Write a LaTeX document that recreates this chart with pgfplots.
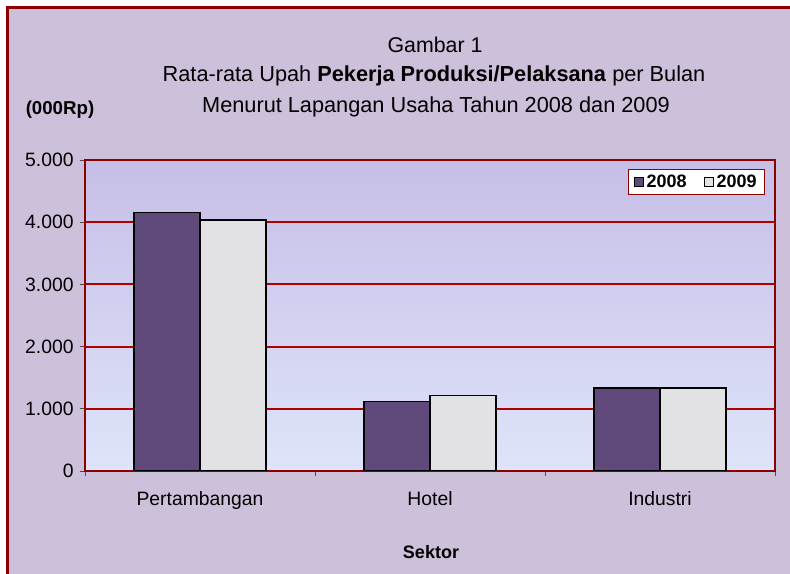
\documentclass[border=0pt]{standalone}
\usepackage{pgfplots}
\pgfplotsset{compat=1.18}
\usepackage{fontspec}
\setmainfont{Liberation Sans}
\definecolor{bgl}{RGB}{204,192,218}
\definecolor{framec}{RGB}{140,0,0}
\definecolor{gridc}{RGB}{175,0,0}
\definecolor{bar08}{RGB}{96,74,123}
\definecolor{bar09}{RGB}{226,226,228}
\definecolor{pltop}{RGB}{198,190,230}
\definecolor{plbot}{RGB}{222,228,250}
\begin{document}
\begin{tikzpicture}
\useasboundingbox (0pt,0pt) rectangle (592.5pt,430.5pt);
\fill[white] (0pt,0pt) rectangle (592.5pt,430.5pt);
\fill[bgl] (5.25pt,0pt) rectangle (592.5pt,424.5pt);
\draw[framec, line width=2.25pt] (5.25pt,-5pt) -- (5.25pt,424.5pt) -- (600pt,424.5pt);
\node[font=\fontsize{16}{18}\selectfont] at (326.25pt,396.75pt) {Gambar 1};
\node[font=\fontsize{16.3}{18}\selectfont] at (325.5pt,373.5pt) {Rata-rata Upah \textbf{Pekerja Produksi/Pelaksana} per Bulan};
\node[font=\fontsize{16.3}{18}\selectfont] at (327pt,350.25pt) {Menurut Lapangan Usaha Tahun 2008 dan 2009};
\node[font=\fontsize{14}{16}\selectfont\bfseries] at (45pt,348pt) {(000Rp)};
\node[font=\fontsize{13.5}{16}\selectfont\bfseries] at (323.25pt,16.5pt) {Sektor};
\begin{axis}[
  at={(63.75pt,77.25pt)}, anchor=south west,
  scale only axis, width=517.5pt, height=233.25pt,
  xmin=-0.5, xmax=2.5, ymin=0, ymax=5000,
  ybar=0pt, bar width=49.5pt,
  xtick={0,1,2}, xticklabels={Pertambangan,Hotel,Industri},
  minor xtick={-0.5,0.5,1.5,2.5},
  ytick={0,1000,2000,3000,4000,5000},
  yticklabels={0,1.000,2.000,3.000,4.000,5.000},
  tick pos=left,
  tick label style={font=\fontsize{14.5}{16}\selectfont},
  every major x tick/.style={draw=none},
  every minor x tick/.style={draw=black!70, line width=0.6pt},
  every major y tick/.style={draw=black!70, line width=0.6pt},
  tick align=outside, major tick length=4pt, minor tick length=4pt,
  xticklabel style={yshift=-8pt},
  yticklabel style={xshift=-1pt},
  ymajorgrids, grid style={gridc, line width=1.5pt},
  axis line style={framec, line width=2pt},
  axis background/.style={top color=pltop, bottom color=plbot},
  legend columns=2,
  legend style={at={(1,1)}, anchor=north east, xshift=-7.5pt, yshift=-6.75pt,
    draw=framec, line width=0.6pt, fill=white, font=\fontsize{13.5}{15}\selectfont\bfseries,
    inner xsep=4pt, inner ysep=2pt,
    /tikz/every even column/.append style={column sep=11pt}},
  legend image code/.code={\draw[#1, draw=black, line width=0.5pt] (0pt,-3.5pt) rectangle (7pt,3.5pt);},
]
\addplot[fill=bar08, draw=black, line width=1pt] coordinates {(0,4160) (1,1115) (2,1335)};
\addplot[fill=bar09, draw=black, line width=1pt] coordinates {(0,4035) (1,1210) (2,1335)};
\legend{2008,2009}
\end{axis}
\end{tikzpicture}
\end{document}
